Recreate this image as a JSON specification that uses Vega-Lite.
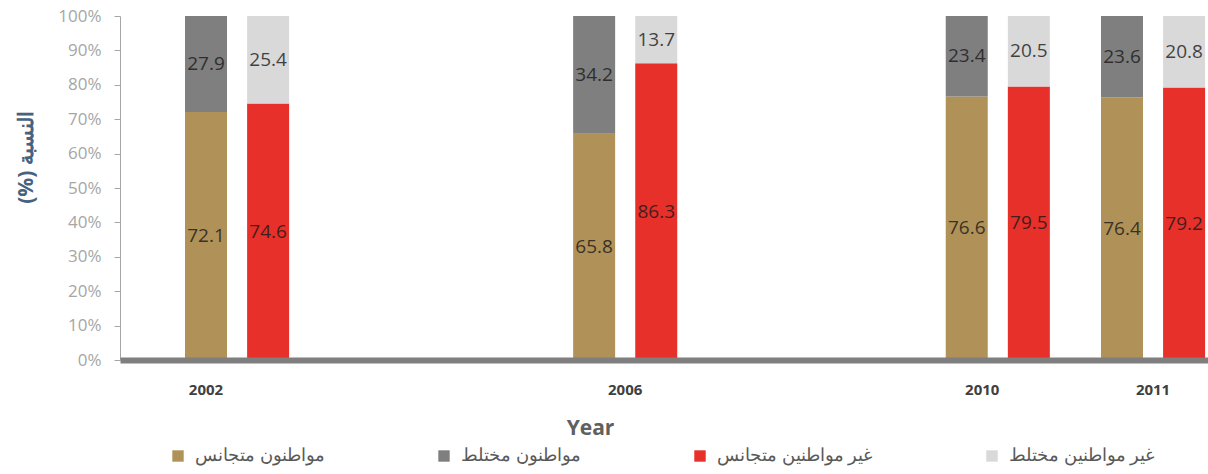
{
  "$schema": "https://vega.github.io/schema/vega-lite/v6.json",
  "width": 1088,
  "height": 344,
  "autosize": {"type": "none"},
  "padding": {"left": 120, "top": 16, "right": 0, "bottom": 114},
  "config": {"view": {"stroke": null}, "font": "Open Sans"},
  "data": {
    "values": [
      {"year": "2002", "side": "c", "type": "متجانس", "series": "مواطنون متجانس", "value": 72.1},
      {"year": "2002", "side": "c", "type": "مختلط", "series": "مواطنون مختلط", "value": 27.9},
      {"year": "2002", "side": "n", "type": "متجانس", "series": "غير مواطنين متجانس", "value": 74.6},
      {"year": "2002", "side": "n", "type": "مختلط", "series": "غير مواطنين مختلط", "value": 25.4},
      {"year": "2006", "side": "c", "type": "متجانس", "series": "مواطنون متجانس", "value": 65.8},
      {"year": "2006", "side": "c", "type": "مختلط", "series": "مواطنون مختلط", "value": 34.2},
      {"year": "2006", "side": "n", "type": "متجانس", "series": "غير مواطنين متجانس", "value": 86.3},
      {"year": "2006", "side": "n", "type": "مختلط", "series": "غير مواطنين مختلط", "value": 13.7},
      {"year": "2010", "side": "c", "type": "متجانس", "series": "مواطنون متجانس", "value": 76.6},
      {"year": "2010", "side": "c", "type": "مختلط", "series": "مواطنون مختلط", "value": 23.4},
      {"year": "2010", "side": "n", "type": "متجانس", "series": "غير مواطنين متجانس", "value": 79.5},
      {"year": "2010", "side": "n", "type": "مختلط", "series": "غير مواطنين مختلط", "value": 20.5},
      {"year": "2011", "side": "c", "type": "متجانس", "series": "مواطنون متجانس", "value": 76.4},
      {"year": "2011", "side": "c", "type": "مختلط", "series": "مواطنون مختلط", "value": 23.6},
      {"year": "2011", "side": "n", "type": "متجانس", "series": "غير مواطنين متجانس", "value": 79.2},
      {"year": "2011", "side": "n", "type": "مختلط", "series": "غير مواطنين مختلط", "value": 20.8}
    ]
  },
  "transform": [
    {"calculate": "datum.year + '|' + datum.side", "as": "bar"},
    {"stack": "value", "groupby": ["bar"], "sort": [{"field": "type", "order": "ascending"}], "as": ["v0", "v1"]},
    {"calculate": "(datum.v0 + datum.v1) / 2", "as": "mid"}
  ],
  "encoding": {
    "x": {
      "field": "bar",
      "type": "nominal",
      "scale": {
        "domain": ["_b1", "_b2", "_b3", "_b4", "_b5",
                   "2002|c", "_1", "_2", "_3", "2002|n",
                   "_5", "_6", "_7", "_8", "_9", "_10", "_11", "_12", "_13", "_14", "_15", "_16", "_17", "_18", "_19", "_20", "_21", "_22", "_23", "_24",
                   "2006|c", "_26", "2006", "_28", "2006|n",
                   "_30", "_31", "_32", "_33", "_34", "_35", "_36", "_37", "_38", "_39", "_40", "_41", "_42", "_43", "_44", "_45", "_46", "_47", "_48",
                   "2010|c", "2010", "_51", "_52", "2010|n",
                   "_54", "_55", "_56", "_57", "_58",
                   "2011|c", "_60", "2011", "_62", "2011|n",
                   "_e"],
        "paddingInner": 0,
        "paddingOuter": 0.04
      },
      "axis": {
        "labelExpr": "datum.value == '2002|c' ? '2002' : (length(datum.value) == 4 ? datum.value : '')",
        "labelOverlap": false,
        "labelAngle": 0,
        "ticks": false,
        "domainColor": "#7f7f7f",
        "domainWidth": 6,
        "labelPadding": 22,
        "labelFontSize": 15,
        "labelFontWeight": "bold",
        "labelColor": "#404040",
        "title": "Year",
        "titleFontSize": 21,
        "titleFontWeight": "bold",
        "titleColor": "#606060",
        "titlePadding": 20,
        "titleX": 470,
        "zindex": 1
      }
    }
  },
  "layer": [
    {
      "mark": {"type": "bar", "width": 42},
      "encoding": {
        "y": {
          "field": "v0",
          "type": "quantitative",
          "scale": {"domain": [0, 100], "nice": false},
          "axis": {
            "values": [0, 10, 20, 30, 40, 50, 60, 70, 80, 90, 100],
            "labelExpr": "datum.value + '%'",
            "labelOverlap": false,
            "grid": false,
            "domainColor": "#a6a6a6",
            "tickColor": "#a6a6a6",
            "tickSize": 6,
            "labelFontSize": 17,
            "labelColor": "#a6a6a6",
            "labelPadding": 13,
            "title": "(%) النسبة",
            "titleFontSize": 21,
            "titleFontWeight": "bold",
            "titleColor": "#46627e",
            "titleAngle": -90,
            "titleX": -94,
            "titleY": 141,
            "titleAlign": "center",
            "titleBaseline": "middle"
          }
        },
        "y2": {"field": "v1"},
        "color": {
          "field": "series",
          "type": "nominal",
          "scale": {
            "domain": ["مواطنون متجانس", "مواطنون مختلط", "غير مواطنين متجانس", "غير مواطنين مختلط"],
            "range": ["#b09258", "#7f7f7f", "#e8302a", "#d9d9d9"]
          },
          "legend": {
            "orient": "none",
            "legendX": 49,
            "legendY": 431,
            "direction": "horizontal",
            "columns": 4,
            "title": null,
            "symbolType": "square",
            "symbolSize": 130,
            "symbolStrokeWidth": 0,
            "labelFontSize": 18,
            "labelColor": "#595959",
            "labelOffset": 8,
            "columnPadding": 110
          }
        }
      }
    },
    {
      "mark": {"type": "text", "fontSize": 19, "fill": "#1a1a1a", "opacity": 0.8},
      "encoding": {
        "y": {
          "field": "mid",
          "type": "quantitative",
          "axis": {
            "values": [0, 10, 20, 30, 40, 50, 60, 70, 80, 90, 100],
            "labelExpr": "datum.value + '%'",
            "labelOverlap": false,
            "grid": false,
            "domainColor": "#a6a6a6",
            "tickColor": "#a6a6a6",
            "tickSize": 6,
            "labelFontSize": 17,
            "labelColor": "#a6a6a6",
            "labelPadding": 13,
            "title": "(%) النسبة",
            "titleFontSize": 21,
            "titleFontWeight": "bold",
            "titleColor": "#46627e",
            "titleAngle": -90,
            "titleX": -94,
            "titleY": 141,
            "titleAlign": "center",
            "titleBaseline": "middle"
          }
        },
        "text": {"field": "value", "type": "quantitative", "format": ".1f"}
      }
    }
  ]
}
